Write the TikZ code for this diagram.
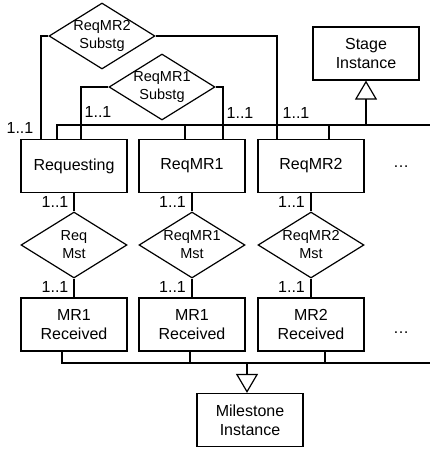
\documentclass[tikz,border=0pt]{standalone}
\usepackage{fontspec}
\setmainfont{Liberation Sans}
\usetikzlibrary{shapes.geometric,arrows.meta}
\tikzset{
  box/.style={draw, rectangle, minimum width=106pt, minimum height=53pt,
    inner sep=0pt, align=center, font=\fontsize{16}{19}\selectfont},
  rel/.style={draw, diamond, minimum width=106pt, minimum height=66pt, inner sep=0pt},
  reltext/.style={inner sep=0pt, align=center, font=\fontsize{14.5}{18}\selectfont},
  mult/.style={inner sep=0pt, font=\fontsize{16}{19}\selectfont},
  gen/.style={-{Triangle[open,width=22pt,length=19pt]}}
}
\begin{document}
\begin{tikzpicture}[x=1pt,y=-1pt,line width=1.2pt]
      \useasboundingbox (0,0) rectangle (430,450);
      \draw
        (366,53.5) node[box] (stage){Stage\\Instance}
        (74,166) node[box] (req){Requesting}
        (192,166) node[box] (mra){ReqMR1}
        (311,166) node[box] (mrb){ReqMR2}
        (74,324.5) node[box] (rcva){MR1\\Received}
        (192,324.5) node[box] (rcvb){MR1\\Received}
        (311,324.5) node[box] (rcvc){MR2\\Received}
        (250,420) node[box] (mile){Milestone\\Instance}
        (401,167) node[mult, anchor=base] (dotsa){…}
        (401,333) node[mult, anchor=base] (dotsb){…};
      \draw
        (102,36) node[rel, label={[reltext]center:ReqMR2\\Substg}] (subb){}
        (162,87) node[rel, label={[reltext]center:ReqMR1\\Substg}] (suba){}
        (74,245) node[rel, label={[reltext]center:Req\\Mst}] (msta){}
        (192,245) node[rel, label={[reltext]center:ReqMR1\\Mst}] (mstb){}
        (311,245) node[rel, label={[reltext]center:ReqMR2\\Mst}] (mstc){};
      \draw
        (20,128) node[mult] (ma){1..1}
        (98,112) node[mult] (mb){1..1}
        (240,113) node[mult] (mc){1..1}
        (296,113) node[mult] (md){1..1}
        (55,202) node[mult] (me){1..1}
        (55,287) node[mult] (mf){1..1}
        (172.5,202) node[mult] (mg){1..1}
        (172.5,287) node[mult] (mh){1..1}
        (291.5,202) node[mult] (mi){1..1}
        (291.5,287) node[mult] (mj){1..1};
      \begin{scope}[-]
        \coordinate (stagebus) at (430,125);
        \coordinate (milebus) at (430,363);
        \draw ([xshift=-17pt]req.north) |- (stagebus);
        \draw ([xshift=-7pt]mra.north) -- ([xshift=-7pt]mra.north |- stagebus);
        \draw ([xshift=18pt]mrb.north) -- ([xshift=18pt]mrb.north |- stagebus);
        \draw[gen] (stage.south |- stagebus) -- (stage.south);
        \draw (subb.west) -| ([xshift=-33pt]req.north);
        \draw (subb.east) -| ([xshift=-34pt]mrb.north);
        \draw (suba.west) -| ([xshift=7pt]req.north);
        \draw (suba.east) -| ([xshift=31pt]mra.north);
        \draw (req.south) to (msta.north);
        \draw (msta.south) to (rcva.north);
        \draw (mra.south) to (mstb.north);
        \draw (mstb.south) to (rcvb.north);
        \draw (mrb.south) to (mstc.north);
        \draw (mstc.south) to (rcvc.north);
        \draw ([xshift=-12pt]rcva.south) |- (milebus);
        \draw ([xshift=-2pt]rcvb.south) -- ([xshift=-2pt]rcvb.south |- milebus);
        \draw ([xshift=14pt]rcvc.south) -- ([xshift=14pt]rcvc.south |- milebus);
        \draw[gen] ([xshift=-3pt]mile.north |- milebus) -- ([xshift=-3pt]mile.north);
      \end{scope}
    \end{tikzpicture}
\end{document}
